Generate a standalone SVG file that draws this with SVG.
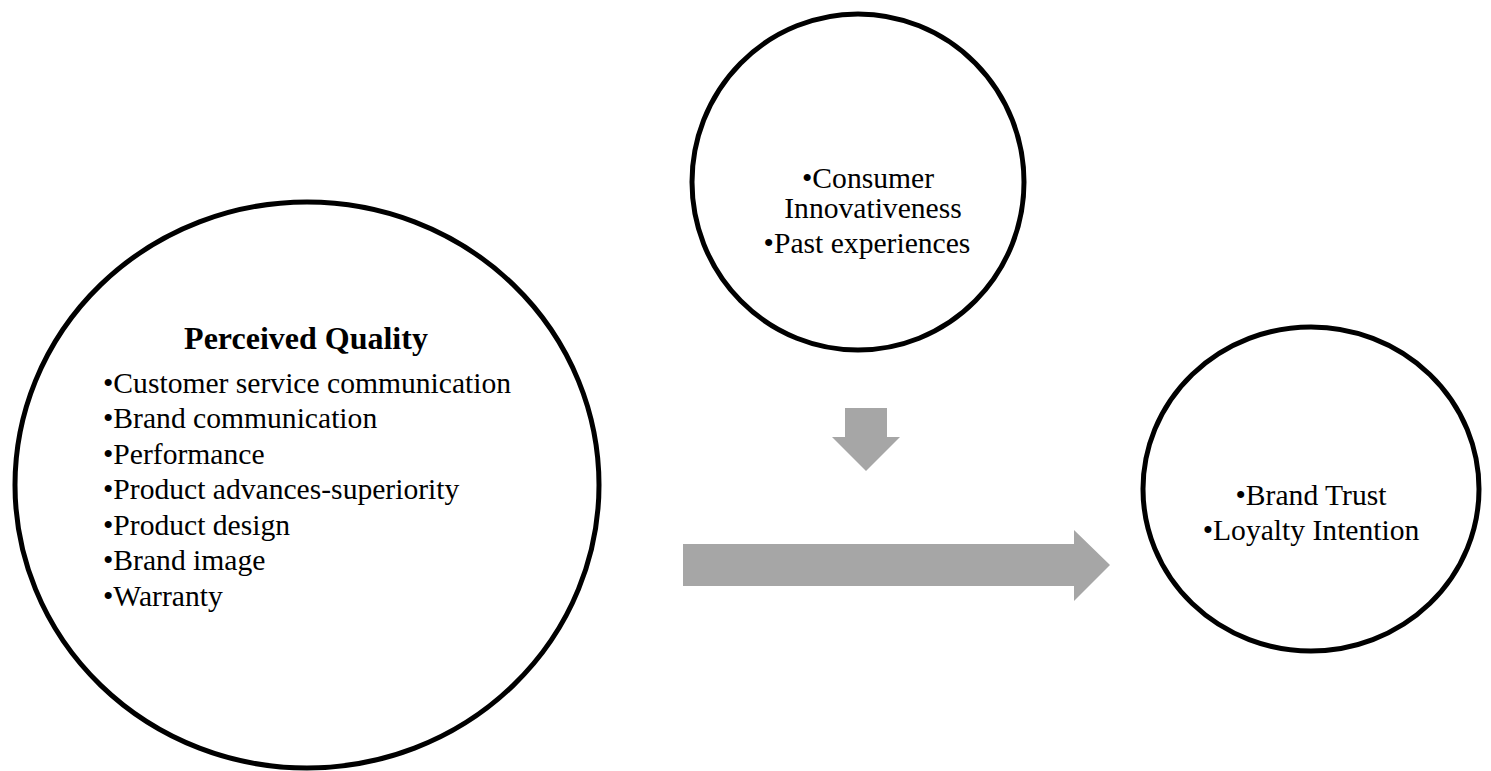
<svg xmlns="http://www.w3.org/2000/svg" width="1491" height="771" viewBox="0 0 1491 771">
  <style>
    .node { fill: #ffffff; stroke: #000000; stroke-width: 5; }
    .txt { font-family: "Liberation Serif", "Times New Roman", serif; font-size: 29.6px; fill: #000000; }
    .title { font-weight: bold; font-size: 32px; }
    .block { fill: #a6a6a6; stroke: none; }
  </style>

  <rect width="1491" height="771" fill="#ffffff"/>

  <!-- Perceived quality factors -->
  <g id="perceived-quality">
    <ellipse class="node" cx="307" cy="485" rx="292" ry="283"/>
    <text class="txt title" x="306" y="349" text-anchor="middle">Perceived Quality</text>
    <text class="txt" x="103" y="393">•Customer service communication</text>
    <text class="txt" x="103" y="428">•Brand communication</text>
    <text class="txt" x="103" y="464">•Performance</text>
    <text class="txt" x="103" y="499">•Product advances-superiority</text>
    <text class="txt" x="103" y="535">•Product design</text>
    <text class="txt" x="103" y="570">•Brand image</text>
    <text class="txt" x="103" y="606">•Warranty</text>
  </g>

  <!-- Moderating consumer factors -->
  <g id="consumer-factors">
    <ellipse class="node" cx="858" cy="182" rx="166" ry="168"/>
    <text class="txt" x="868" y="188" text-anchor="middle">•Consumer</text>
    <text class="txt" x="873" y="218" text-anchor="middle">Innovativeness</text>
    <text class="txt" x="867" y="253" text-anchor="middle">•Past experiences</text>
  </g>

  <!-- Outcomes -->
  <g id="outcomes">
    <ellipse class="node" cx="1311" cy="489" rx="168" ry="162"/>
    <text class="txt" x="1311" y="505" text-anchor="middle">•Brand Trust</text>
    <text class="txt" x="1311" y="540" text-anchor="middle">•Loyalty Intention</text>
  </g>

  <!-- Block arrows -->
  <g id="connectors">
    <polygon class="block" points="845,408 887,408 887,437 900,437 866,471 832,437 845,437"/>
    <polygon class="block" points="683,544 1074,544 1074,530 1110,565 1074,601 1074,586 683,586"/>
  </g>
</svg>
